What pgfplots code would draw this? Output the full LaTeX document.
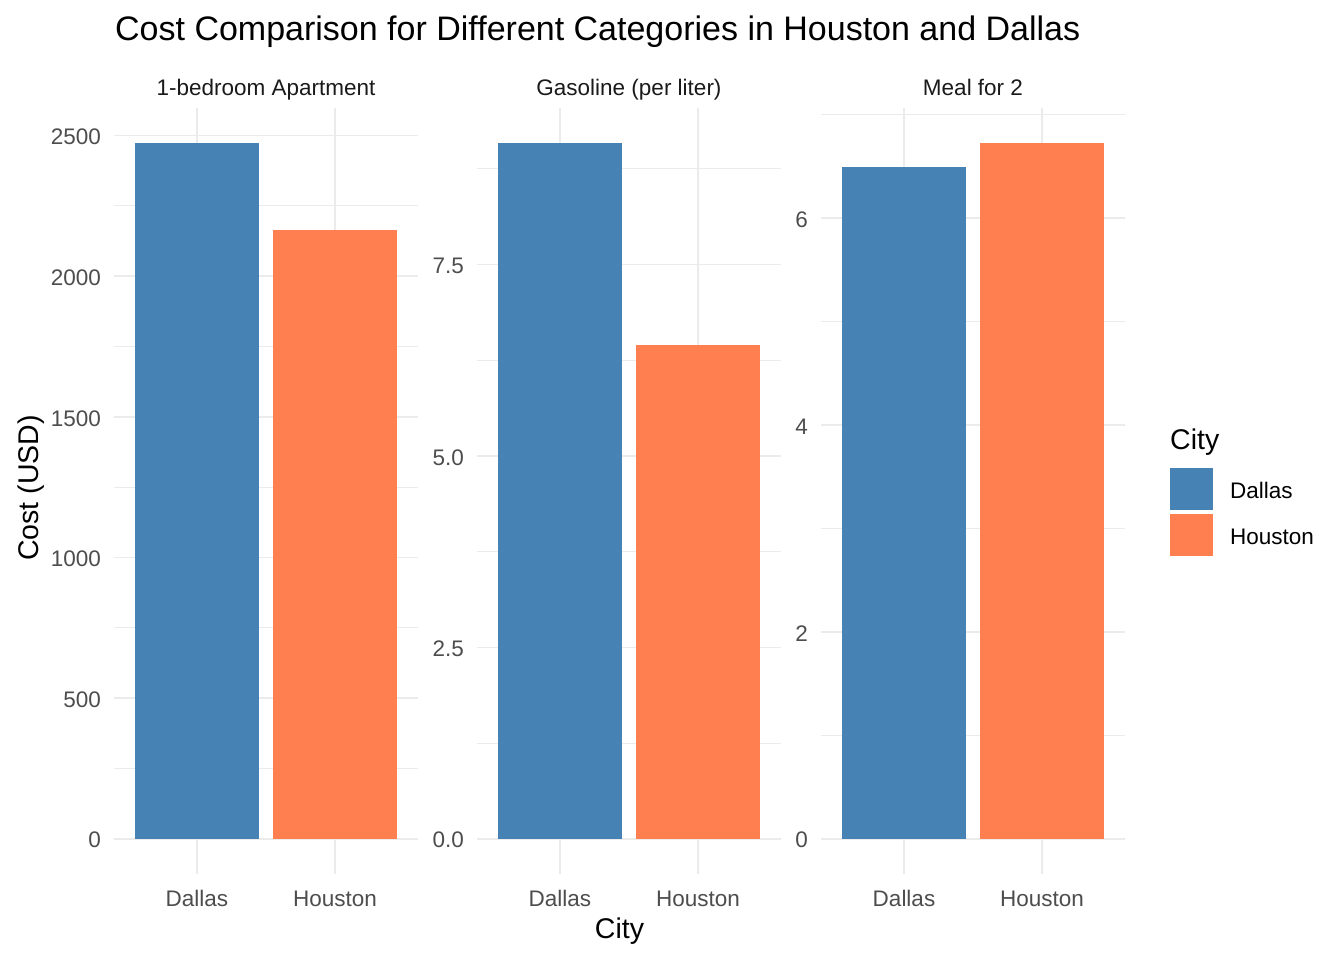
\documentclass[border=0pt]{standalone}
\usepackage{pgfplots}
\pgfplotsset{compat=1.18}
\usepackage{fontspec}
\setmainfont{Liberation Sans}
\definecolor{steelblue}{HTML}{4682B4}
\definecolor{coral}{HTML}{FF7F50}
\definecolor{gridc}{HTML}{EBEBEB}
\definecolor{tickc}{HTML}{4D4D4D}
\definecolor{stripc}{HTML}{1A1A1A}
\newcommand{\ticksize}{\fontsize{22.5}{25}\selectfont}
\newcommand{\axtitlesize}{\fontsize{28.5}{32}\selectfont}
\pgfplotsset{
  facet/.style={
    scale only axis,
    width=303.6pt, height=765.5pt,
    anchor=north west,
    xmin=0.4, xmax=2.6,
    xtick={1,2}, xticklabels={Dallas,Houston},
    axis line style={draw=none},
    major tick length=0pt, minor tick length=0pt,
    xmajorgrids, ymajorgrids, yminorgrids,
    major grid style={color=gridc, line width=1.6pt},
    minor grid style={color=gridc, line width=0.8pt},
    /pgf/number format/assume math mode=true,
    tick label style={font=\ticksize, text=tickc},
    xticklabel style={anchor=base, yshift=-32.5pt, inner sep=0pt},
    yticklabel style={anchor=east, xshift=-13pt, yshift=-1.5pt, inner sep=0pt},
    title style={at={(0.5,1)}, anchor=base, yshift=6pt, font=\ticksize, text=stripc, inner sep=0pt},
    clip=false,
  },
}
\begin{document}
\begin{tikzpicture}
\useasboundingbox (0pt,0pt) rectangle (1344pt,-960pt);
% Panel 1
\begin{axis}[facet, at={(114.2pt,-108pt)},
  title={1-bedroom Apartment},
  ymin=-123.7, ymax=2597.7,
  ytick={0,500,1000,1500,2000,2500},
  minor ytick={250,750,1250,1750,2250},
  yticklabels={0,500,1000,1500,2000,2500}]
\addplot[ybar, bar width=0.9, bar shift=0pt, fill=steelblue, draw=none] coordinates {(1,2474)};
\addplot[ybar, bar width=0.9, bar shift=0pt, fill=coral, draw=none] coordinates {(2,2165)};
\end{axis}
% Panel 2
\begin{axis}[facet, at={(477.2pt,-108pt)},
  title={Gasoline (per liter)},
  ymin=-0.4545, ymax=9.5445,
  ytick={0,2.5,5,7.5},
  minor ytick={1.25,3.75,6.25,8.75},
  yticklabels={0.0,2.5,5.0,7.5}]
\addplot[ybar, bar width=0.9, bar shift=0pt, fill=steelblue, draw=none] coordinates {(1,9.09)};
\addplot[ybar, bar width=0.9, bar shift=0pt, fill=coral, draw=none] coordinates {(2,6.45)};
\end{axis}
% Panel 3
\begin{axis}[facet, at={(821.2pt,-108pt)},
  title={Meal for 2},
  ymin=-0.3365, ymax=7.0665,
  ytick={0,2,4,6},
  minor ytick={1,3,5,7},
  yticklabels={0,2,4,6},
  legend style={at={(1.1489,0.5297)}, anchor=north west, draw=none, fill=none,
    inner sep=0pt, outer sep=0pt, row sep=4.3pt, column sep=17pt,
    nodes={inner sep=0pt, font=\ticksize, text=black}},
  legend cell align=left]
\addplot[ybar, bar width=0.9, bar shift=0pt, fill=steelblue, draw=none,
  legend image code/.code={\fill[steelblue] (0pt,-18.3pt) rectangle (43pt,23.4pt);}] coordinates {(1,6.50)};
\addlegendentry{Dallas}
\addplot[ybar, bar width=0.9, bar shift=0pt, fill=coral, draw=none,
  legend image code/.code={\fill[coral] (0pt,-18.3pt) rectangle (43pt,23.4pt);}] coordinates {(2,6.73)};
\addlegendentry{Houston}
\end{axis}
% Titles
\node[anchor=base west, inner sep=0pt, font=\fontsize{34}{38}\selectfont] at (115pt,-40.7pt) {Cost Comparison for Different Categories in Houston and Dallas};
\node[anchor=base, inner sep=0pt, font=\axtitlesize] at (619.5pt,-938.3pt) {City};
\node[anchor=base, inner sep=0pt, rotate=90, font=\axtitlesize] at (38pt,-488pt) {Cost (USD)};
\node[anchor=base west, inner sep=0pt, font=\axtitlesize] at (1170pt,-449pt) {City};
\end{tikzpicture}
\end{document}
